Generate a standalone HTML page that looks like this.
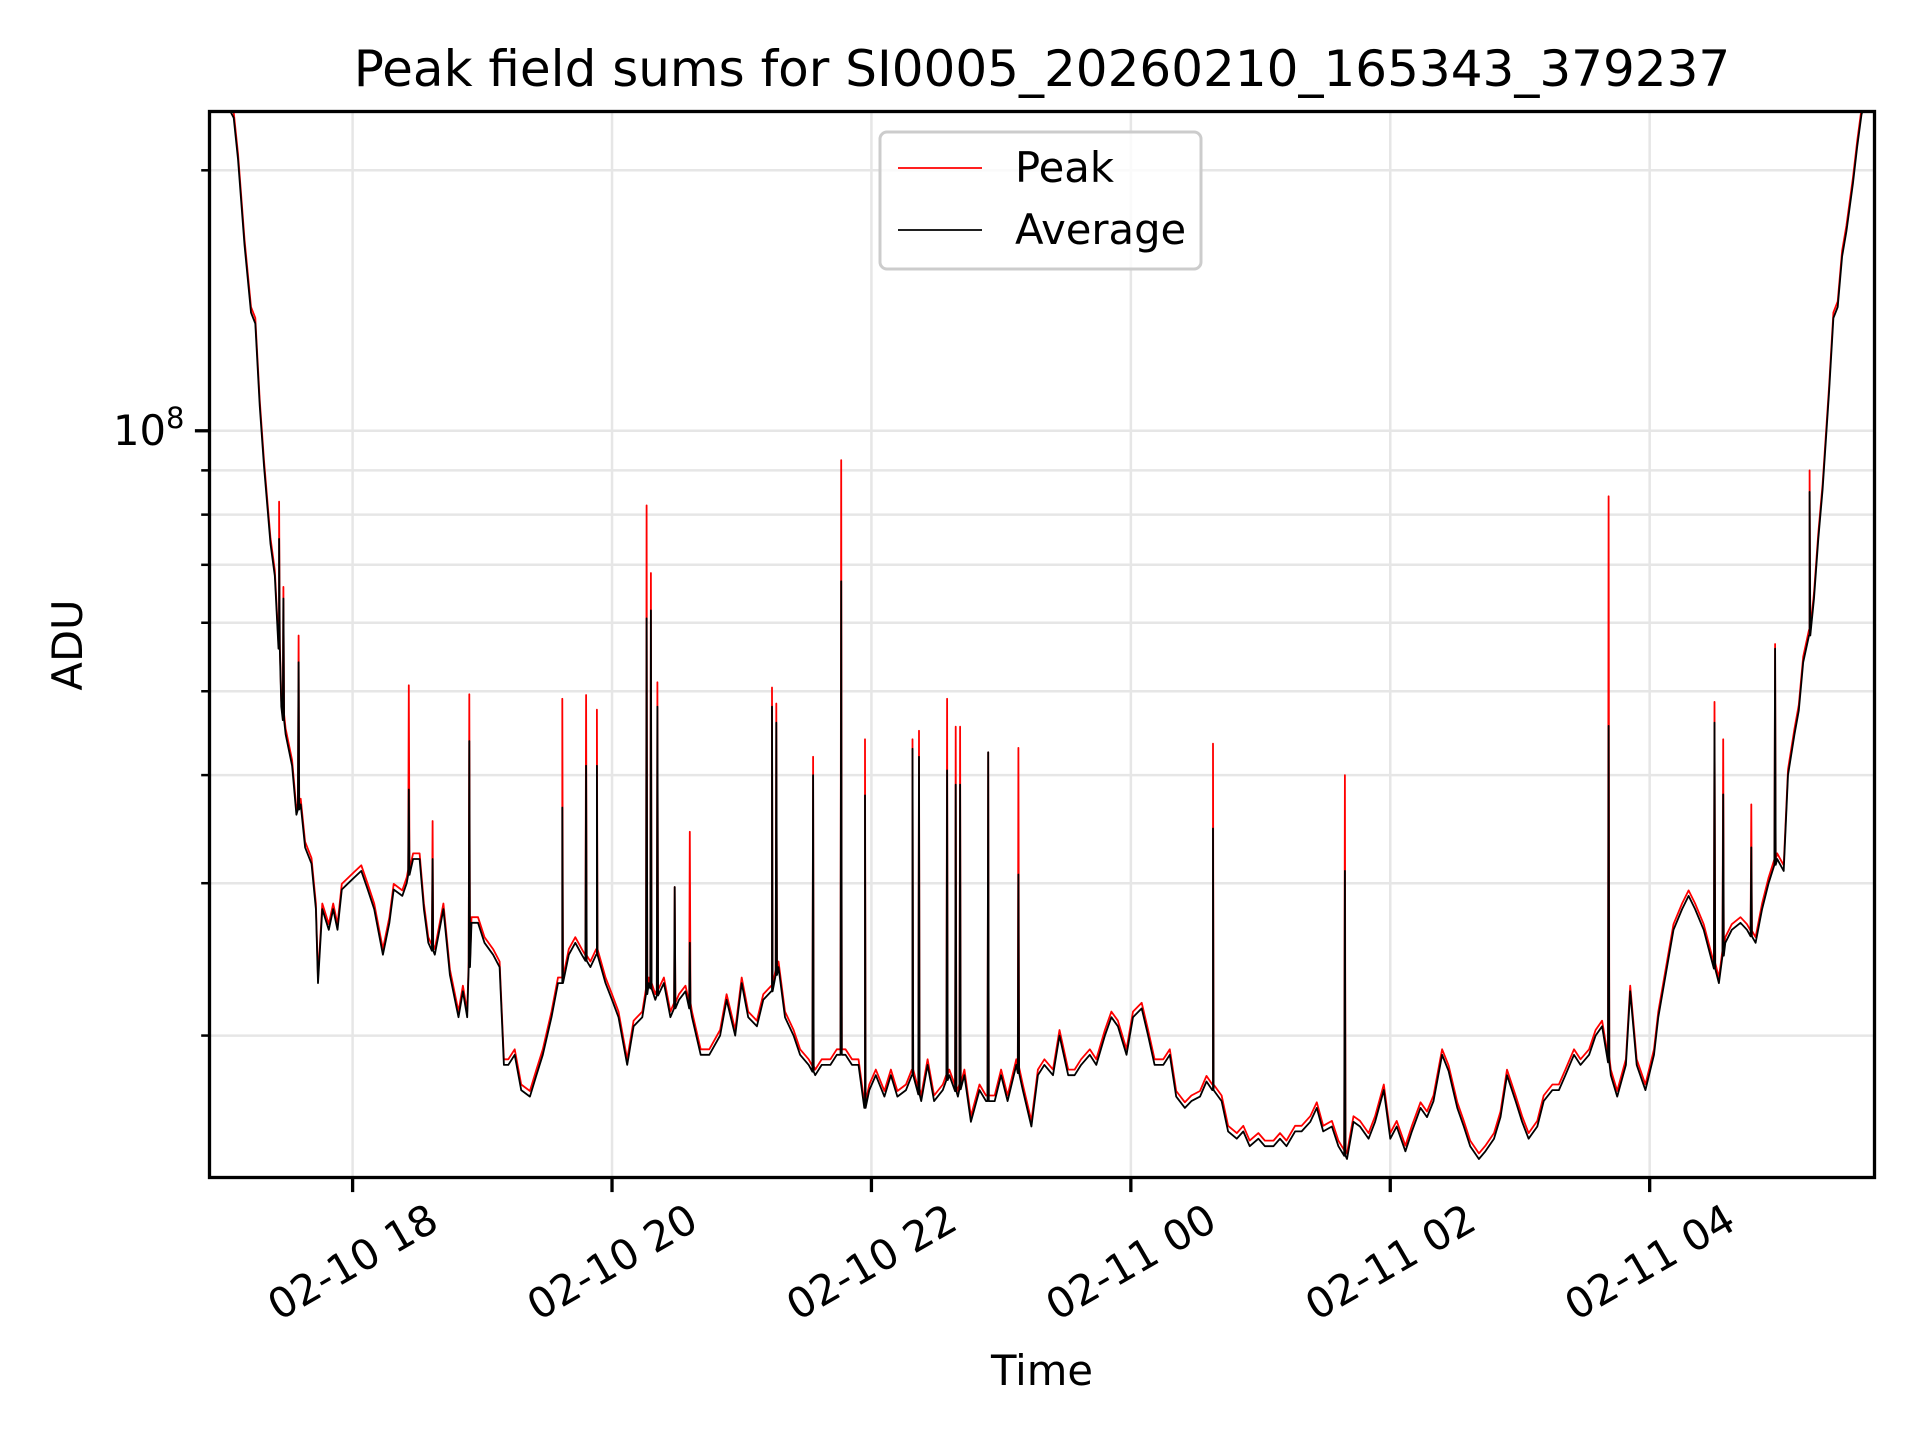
<!DOCTYPE html>
<html><head><meta charset="utf-8"><style>
html,body{margin:0;padding:0;background:#fff;overflow:hidden;width:1920px;height:1440px;}
svg{display:block;font-family:"DejaVu Sans","Liberation Sans",sans-serif;}
</style></head><body>
<svg id="chart" width="1920" height="1440" viewBox="0 0 1920 1440" xmlns="http://www.w3.org/2000/svg">
<rect width="1920" height="1440" fill="#fff"/>
<text x="1042" y="86" font-size="50" text-anchor="middle" fill="#000">Peak field sums for SI0005_20260210_165343_379237</text>
<g id="grid"></g>
<defs><clipPath id="clip"><rect x="209.5" y="111.5" width="1665" height="1066"/></clipPath></defs>
<g id="series" clip-path="url(#clip)"></g>
<rect x="209.5" y="111.5" width="1665" height="1066" fill="none" stroke="#000" stroke-width="3.3"/>
<g id="axes"></g>
<text transform="translate(82,645) rotate(-90)" font-size="41.7" text-anchor="middle" fill="#000">ADU</text>
<text x="1042" y="1385" font-size="41.7" text-anchor="middle" fill="#000">Time</text>
<g>
<rect x="880" y="132" width="321" height="137" rx="7" fill="#fff" fill-opacity="0.8" stroke="#cccccc" stroke-width="3"/>
<line x1="898" y1="168" x2="982" y2="168" stroke="#ff0000" stroke-width="1.8"/>
<text x="1015" y="182" font-size="41.7" fill="#000">Peak</text>
<line x1="898" y1="230" x2="982" y2="230" stroke="#000" stroke-width="1.8"/>
<text x="1015" y="244" font-size="41.7" fill="#000">Average</text>
</g>
</svg>
<script>
// minutes since 02-10 18:00
const baseMinutes = [-66,-55,-53,-50,-47,-45,-43,-41,-38,-36,-34,-33,-31,-28,-26,-24,-22,-19,-17,-16,-14,-11,-9,-7,-5,-2,1,4,7,10,14,17,19,23,25,28,31,33,35,38,42,45,49,51,53,55,58,61,65,68,70,72,75,78,82,85,88,92,95,97,100,103,106,110,113,117,120,123,127,130,134,137,140,144,147,151,154,157,161,165,170,173,177,180,183,187,190,194,197,200,204,207,211,214,217,221,224,228,231,234,237,239,242,246,249,252,256,259,263,266,269,273,276,280,283,286,290,293,297,300,303,307,310,314,317,320,324,327,331,334,337,341,344,348,351,354,358,361,365,368,371,375,378,381,385,388,392,395,398,402,405,409,412,415,419,422,426,429,432,436,439,443,446,449,453,456,460,463,466,470,473,477,480,483,487,490,494,497,500,504,507,511,514,517,521,524,528,531,534,538,541,544,548,551,555,558,561,565,568,572,575,578,582,585,589,591,594,598,602,604,608,611,615,618,621,625,628,632,635,638,642,645,649,652,655,659,662,664,667,669,671,674,676,678,680,683,685,687,689,691,694,696,698,704];
// average ADU in millions
const baseAverage = [260,230,206,164,137,133,107,91,74,68,56,48,44.6,41,36,37,33,31.6,28,23,28,26.5,28,26.5,29.5,30,30.5,31,29.5,28,24.8,27,29.5,29,30,32,32,28,25.6,24.8,28,23.5,21,22.5,21,27,27,25.6,24.8,24,18.5,18.5,19,17.3,17,18,19,21,23,23,24.8,25.6,24.8,24,24.8,23,22,21,18.5,20.5,21,23,22,23,21,22,22.5,21,19,19,20,22,20,23,21,20.5,22,22.5,24,21,20,19,18.5,18,18.5,18.5,19,19,18.5,18.5,16.5,17.3,18,17,18,17,17.3,18,16.8,18.5,16.8,17.3,18,17,18,15.9,17.3,16.8,16.8,18,16.8,18.5,17.3,15.7,18,18.5,18,20,18,18,18.5,19,18.5,20,21,20.5,19,21,21.5,20,18.5,18.5,19,17,16.5,16.8,17,17.7,17.3,16.8,15.5,15.2,15.5,14.9,15.2,14.9,14.9,15.2,14.9,15.5,15.5,15.9,16.5,15.5,15.7,14.9,14.4,15.9,15.7,15.2,15.9,17.3,15.2,15.7,14.7,15.5,16.5,16.1,16.8,19,18.2,16.5,15.7,14.9,14.4,14.7,15.2,16.1,18,16.8,15.9,15.2,15.7,16.8,17.3,17.3,18,19,18.5,19,20,20.5,18,17,18.5,22.5,18.5,17.3,19,21,24,26.5,28,29,28,26.5,24.8,23,25.6,26.5,27,26.5,25.6,28,30,32,31,40,44.6,47.5,54,58,64,75,85.5,111,135,139,159,170,193,213,232,260];
const peakRatio = 1.015;
const spikeMinutes = [-34,-32,-25,26,37,54,97,108,113,136,138,141,149,156,194,196,213,226,237,259,262,275,279,281,294,308,398,459,581,630,634,647,658,674];
const spikePeak = [82.8,66,58,50.8,35.4,49.6,49,49.5,47.6,82,68.5,51.2,29.7,34.4,50.5,48.4,42,92.5,44,44,45,49,45.5,45.5,42.5,43,43.5,40,84,48.6,44,37,56.7,90];
const spikeAverage = [75,64,54,38.5,32,43.8,36.7,41,41,60.7,62,48,29.7,25.6,48,46,40,67,37.9,42.9,42,40.5,39,39,42.5,30.7,34.7,31,45.6,46,38,33,56,85];
const xTicks = [0,120,240,360,480,600];
const xTickLabels = ["02-10 18","02-10 20","02-10 22","02-11 00","02-11 02","02-11 04"];
const yMinorTicks = [2e7,3e7,4e7,5e7,6e7,7e7,8e7,9e7,2e8];
const yMajorTicks = [1e8];

const L=209.5,R=1874.5,T=111.5,B=1177.5, X0=-66.2, X1=704, LY0=7.137, LY1=8.369;
const xs = m => L + (m - X0) / (X1 - X0) * (R - L);
const ys = v => B - (Math.log10(v * 1e6) - LY0) / (LY1 - LY0) * (B - T);
const ysAbs = v => B - (Math.log10(v) - LY0) / (LY1 - LY0) * (B - T);
const NS="http://www.w3.org/2000/svg";
function mk(tag, attrs, parent){const e=document.createElementNS(NS,tag);for(const k in attrs)e.setAttribute(k,attrs[k]);parent.appendChild(e);return e;}
const grid=document.getElementById('grid'), axes=document.getElementById('axes'), series=document.getElementById('series');

xTicks.forEach((m,i)=>{
  const x=xs(m);
  const g=mk('line',{x1:x,x2:x,y1:T,y2:B,stroke:'#e6e6e6','stroke-width':2.5},grid);
  
  
  const t=mk('line',{x1:x,x2:x,y1:B,y2:B+14.6,stroke:'#000','stroke-width':3.3},axes);
  
  
  const lb=mk('text',{transform:`translate(${x},1262) rotate(-30)`,'font-size':41.7,'text-anchor':'middle','dominant-baseline':'central',fill:'#000'},axes);
  lb.textContent=xTickLabels[i];
  
  
});
yMinorTicks.forEach(v=>{
  const y=ysAbs(v);
  const g=mk('line',{x1:L,x2:R,y1:y,y2:y,stroke:'#e6e6e6','stroke-width':2.5},grid);
  
  
  const t=mk('line',{x1:L-8.3,x2:L,y1:y,y2:y,stroke:'#000','stroke-width':2.5},axes);
  
  
});
yMajorTicks.forEach(v=>{
  const y=ysAbs(v);
  const g=mk('line',{x1:L,x2:R,y1:y,y2:y,stroke:'#e6e6e6','stroke-width':2.5},grid);
  
  
  const t=mk('line',{x1:L-14.6,x2:L,y1:y,y2:y,stroke:'#000','stroke-width':3.3},axes);
  
  
  const lb=mk('text',{x:L-25,y:y+14,'font-size':41.7,'text-anchor':'end',fill:'#000'},axes);
  lb.innerHTML='10<tspan dy="-17" font-size="29">'+Math.round(Math.log10(v))+'</tspan>';
  
  
});

const N = Math.min(baseMinutes.length, baseAverage.length);
function interp(m){
  for(let i=1;i<N;i++){
    if(baseMinutes[i]>=m){const a=baseMinutes[i-1],b=baseMinutes[i];const f=(m-a)/((b-a)||1);return baseAverage[i-1]+(baseAverage[i]-baseAverage[i-1])*f;}
  }
  return baseAverage[N-1];
}
function buildPoints(spikeVals, ratio){
  const pts=[];
  for(let i=0;i<N;i++) pts.push([baseMinutes[i],baseAverage[i]*ratio]);
  const S=Math.min(spikeMinutes.length, spikeVals.length);
  for(let i=0;i<S;i++){
    const m=spikeMinutes[i];
    const b=interp(m)*ratio;
    pts.push([m-0.3,b],[m,spikeVals[i]],[m+0.3,b]);
  }
  pts.sort((a,b)=>a[0]-b[0]);
  return pts.filter(p=>isFinite(p[0])&&isFinite(p[1])&&p[1]>0)
            .map(p=>xs(p[0]).toFixed(1)+','+ys(p[1]).toFixed(1)).join(' ');
}
const peakLine=mk('polyline',{points:buildPoints(spikePeak,peakRatio),fill:'none',stroke:'#ff0000','stroke-width':1.8,'stroke-linejoin':'round'},series);


const avgLine=mk('polyline',{points:buildPoints(spikeAverage,1),fill:'none',stroke:'#000','stroke-width':1.8,'stroke-linejoin':'round'},series);


</script>
</body></html>
